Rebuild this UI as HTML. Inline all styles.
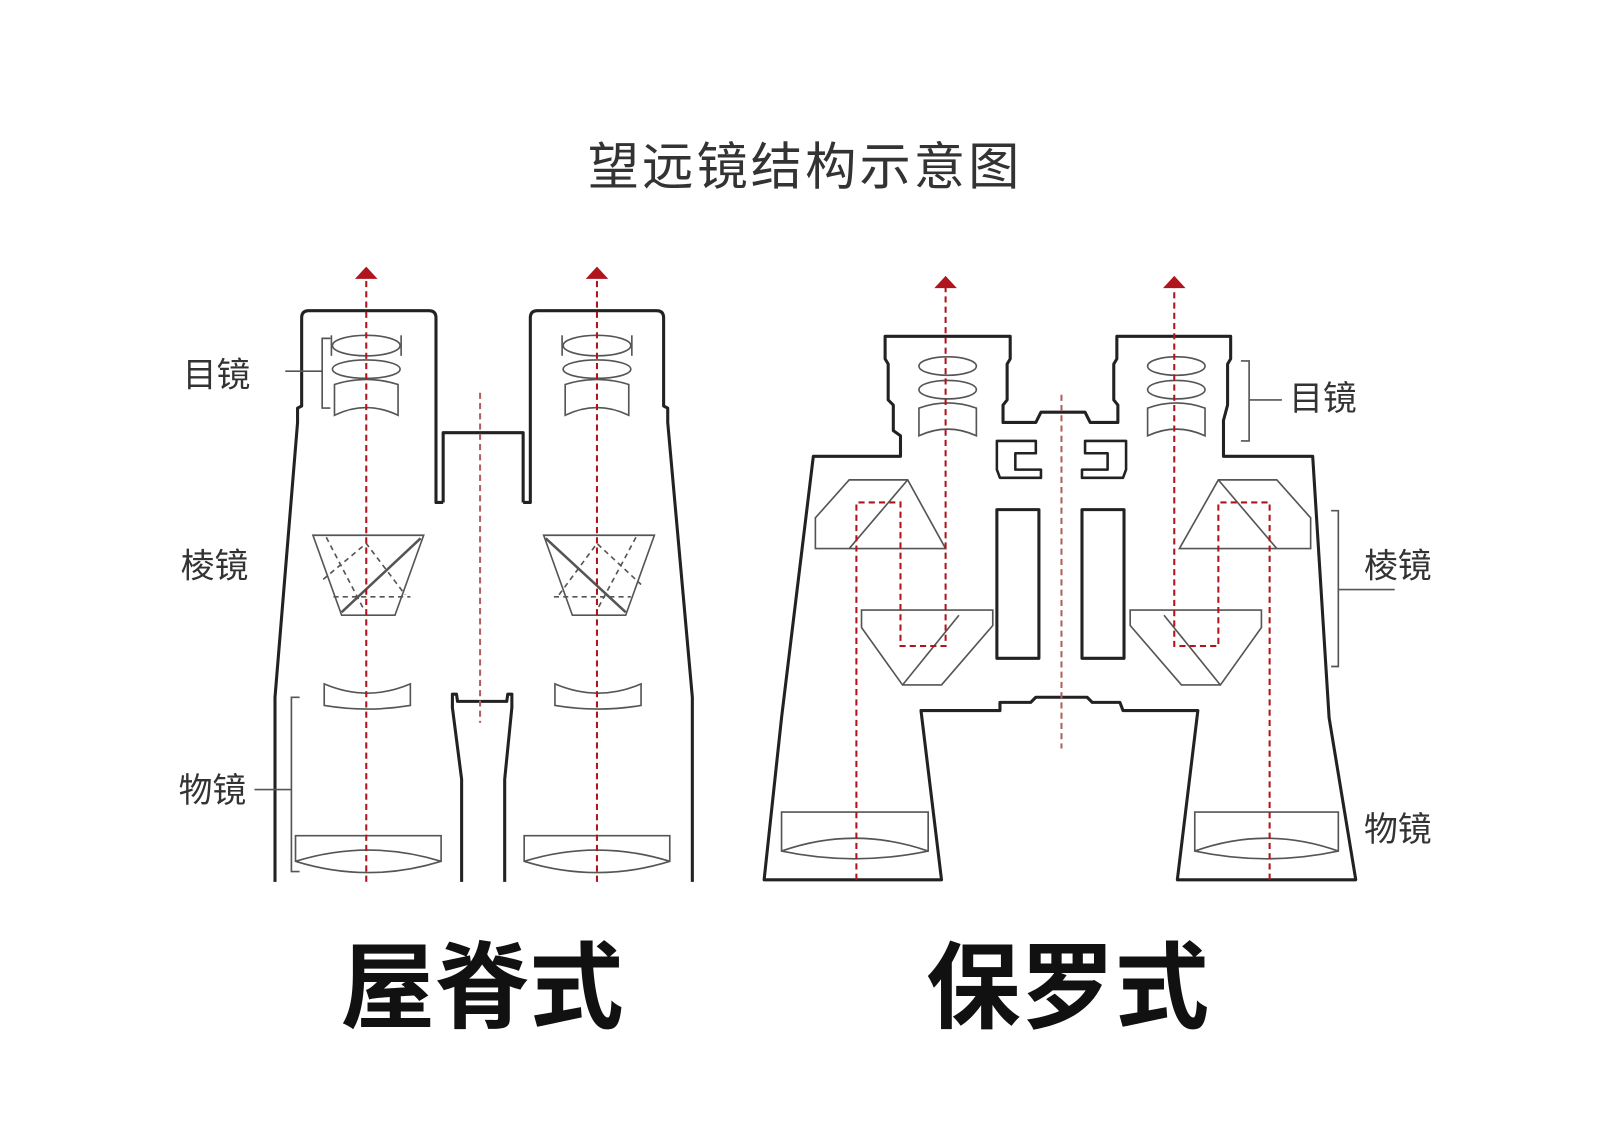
<!DOCTYPE html>
<html><head><meta charset="utf-8"><style>
html,body{margin:0;padding:0;background:#fff;}
svg{display:block}
text{font-family:"Liberation Sans","Noto Sans CJK SC",sans-serif;}
</style></head><body>
<svg width="1600" height="1131" viewBox="0 0 1560 1103" xmlns="http://www.w3.org/2000/svg">
<rect width="1560" height="1103" fill="#fff"/>
<text x="785" y="180" font-size="50" fill="#333" text-anchor="middle" letter-spacing="3">望远镜结构示意图</text>

<g fill="none" stroke="#222" stroke-width="3" stroke-linejoin="round">
<path d="M268,860 L268,680 L290,412 L290,398 L294,396 L294,310 Q294,303 301,303 L418,303 Q425,303 425,310 L425,490 L432,490"/>
<path d="M432,490 L432,422 L510,422 L510,490"/>
<path d="M510,490 L517,490 L517,310 Q517,303 524,303 L640,303 Q647,303 647,310 L647,396 L651,398 L651,412 L675,680 L675,860"/>
<path d="M450,860 L450,760 L441,690 L441,677 L445,677 L446,684 L494,684 L495,677 L499,677 L499,690 L492,760 L492,860"/>

<path d="M745,858 L762,700 L793,445 L878,445 L878,425 L871,420 L871,395 L866,390 L866,355 L863,350 L863,328 L985,328 L985,350 L982,355 L982,390 L978,395 L978,412 L1010,412 L1015,402 L1058,402 L1063,412 L1090,412 L1090,395 L1086,390 L1086,355 L1089,350 L1089,328 L1200,328 L1200,350 L1197,355 L1197,395 L1193,410 L1193,445 L1280,445 L1296,700 L1322,858 L1148,858 L1168,693 L1095,693 L1092,685 L1065,685 L1060,680 L1010,680 L1005,685 L975,685 L975,693 L898,693 L918,858 Z"/>
<path d="M972,430 L1010,430 L1010,442 L990,442 L990,458 L1015,458 L1015,466 L975,466 L972,458 Z" stroke-width="2.5"/>
<path d="M1098,430 L1058,430 L1058,442 L1080,442 L1080,458 L1055,458 L1055,466 L1095,466 L1098,458 Z" stroke-width="2.5"/>
<rect x="972" y="497" width="41" height="145"/>
<rect x="1055" y="497" width="41" height="145"/>
</g>

<g fill="none" stroke="#555" stroke-width="1.6">
<g id="ep">
<ellipse cx="357" cy="337" rx="33" ry="10"/><line x1="323" y1="327" x2="323" y2="347"/><line x1="391" y1="327" x2="391" y2="347"/>
<ellipse cx="357" cy="360" rx="33" ry="9"/>
<path d="M326,375 Q357,365 388,375 L388,405 Q357,390 326,405 Z"/>
</g>
<use href="#ep" x="225"/>
<path d="M305,522 L413,522 L385,600 L333,600 Z"/>
<path d="M333,597 L410,525" stroke-width="2.5"/><path d="M318,524 L355,595" stroke-dasharray="5 4"/>
<path d="M315,565 L357,530 L395,580 M325,582 L400,582" stroke-dasharray="5 4"/>
<path d="M530,522 L638,522 L610,600 L558,600 Z"/>
<path d="M532,525 L610,597" stroke-width="2.5"/><path d="M620,524 L582,595" stroke-dasharray="5 4"/>
<path d="M545,580 L582,530 L625,570 M540,582 L615,582" stroke-dasharray="5 4"/>
<path d="M316,667 Q358,685 400,667 L400,688 Q358,695 316,688 Z"/>
<path d="M541,667 Q583,685 625,667 L625,688 Q583,695 541,688 Z"/>
<path d="M288,815 L430,815 L430,840 Q359,862 288,840 Z M288,840 Q359,818 430,840"/>
<path d="M511,815 L653,815 L653,840 Q582,862 511,840 Z M511,840 Q582,818 653,840"/>
<path d="M322,330 L314,330 L314,398 L322,398 M314,362 L278,362"/>
<path d="M292,680 L284,680 L284,850 L292,850 M284,770 L248,770"/>
<path d="M1210,352 L1218,352 L1218,430 L1210,430 M1218,390 L1250,390"/>
<path d="M1298,498 L1305,498 L1305,650 L1298,650 M1305,575 L1360,575"/>

<g id="pe">
<ellipse cx="924" cy="357" rx="28" ry="9"/><ellipse cx="924" cy="380" rx="28" ry="9"/>
<path d="M896,398 Q924,388 952,398 L952,425 Q924,412 896,425 Z"/>
</g>
<use href="#pe" x="223"/>
<path d="M828,468 L885,468 L922,535 L795,535 L795,505 Z M885,468 L828,535"/>
<path d="M840,595 L968,595 L968,610 L918,668 L880,668 L840,612 Z M968,610 L918,668 M880,668 L935,600"/>
<path d="M1245,468 L1188,468 L1150,535 L1278,535 L1278,505 Z M1188,468 L1245,535"/>
<path d="M1230,595 L1102,595 L1102,610 L1152,668 L1190,668 L1230,612 Z M1102,610 L1152,668 M1190,668 L1135,600"/>
<path d="M762,792 L905,792 L905,830 Q833,845 762,830 Z M762,830 Q833,805 905,830"/>
<path d="M1165,792 L1305,792 L1305,830 Q1235,845 1165,830 Z M1165,830 Q1235,805 1305,830"/>
</g>

<g fill="none" stroke="#b0141c" stroke-width="2" stroke-dasharray="6 4">
<line x1="357" y1="860" x2="357" y2="272"/>
<line x1="582" y1="860" x2="582" y2="272"/>
<line x1="468" y1="383" x2="468" y2="705" stroke="#b06060"/>
<path d="M835,858 L835,490 L878,490 L878,630 L922,630 L922,280"/>
<path d="M1238,858 L1238,490 L1188,490 L1188,630 L1145,630 L1145,280"/>
<line x1="1035" y1="385" x2="1035" y2="730" stroke="#b06060"/>
</g>
<g fill="#b0141c">
<polygon points="346,272 357,260 368,272"/>
<polygon points="571,272 582,260 593,272"/>
<polygon points="911,281 922,269 933,281"/>
<polygon points="1134,281 1145,269 1156,281"/>
</g>

<g font-size="33" fill="#333">
<text x="178" y="377">目镜</text>
<text x="176" y="563">棱镜</text>
<text x="174" y="782">物镜</text>
<text x="1257" y="400">目镜</text>
<text x="1330" y="563">棱镜</text>
<text x="1330" y="820">物镜</text>
</g>
<g font-size="92" font-weight="bold" fill="#111">
<text x="332" y="995">屋脊式</text>
<text x="903" y="995">保罗式</text>
</g>
</svg>
</body></html>
